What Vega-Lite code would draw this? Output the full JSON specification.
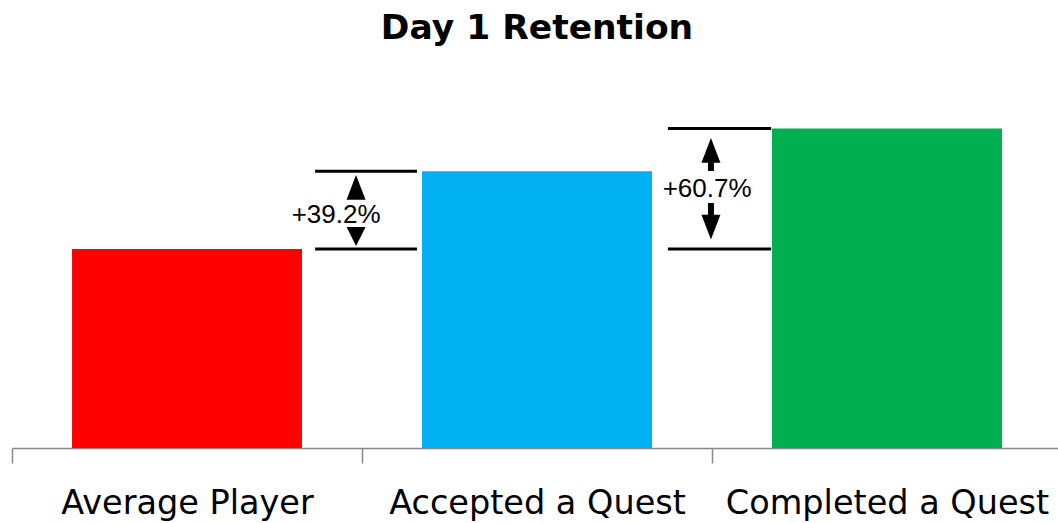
{
  "$schema": "https://vega.github.io/schema/vega-lite/v6.json",
  "width": 1050,
  "height": 358,
  "autosize": {"type": "none"},
  "padding": {"left": 12, "top": 90, "right": 0, "bottom": 75},
  "background": "white",
  "config": {"view": {"stroke": null}},
  "title": {
    "text": "Day 1 Retention",
    "font": "DejaVu Sans",
    "fontSize": 34.5,
    "fontWeight": "bold",
    "color": "#000000",
    "anchor": "middle",
    "baseline": "alphabetic",
    "offset": 17
  },
  "datasets": {
    "bars": [
      {"group": "Average Player", "retention": 20.0},
      {"group": "Accepted a Quest", "retention": 27.84},
      {"group": "Completed a Quest", "retention": 32.14}
    ],
    "brackets": [
      {"from": 0.866, "to": 1.157, "value": 27.84},
      {"from": 0.866, "to": 1.157, "value": 20.0},
      {"from": 1.874, "to": 2.169, "value": 32.14},
      {"from": 1.874, "to": 2.169, "value": 20.0}
    ],
    "shafts": [
      {"pos": 1.997, "top": 28.96, "bottom": 27.86},
      {"pos": 1.997, "top": 24.64, "bottom": 23.23}
    ],
    "heads": [
      {"pos": 0.983, "value": 26.2, "head": "up"},
      {"pos": 0.983, "value": 21.27, "head": "down-short"},
      {"pos": 1.997, "value": 29.92, "head": "up"},
      {"pos": 1.997, "value": 22.22, "head": "down"}
    ],
    "labels": [
      {"pos": 0.926, "value": 22.63, "label": "+39.2%"},
      {"pos": 1.986, "value": 25.24, "label": "+60.7%"}
    ]
  },
  "layer": [
    {
      "data": {"name": "bars"},
      "mark": {"type": "bar", "width": {"band": 0.657}},
      "encoding": {
        "x": {
          "field": "group",
          "type": "nominal",
          "sort": null,
          "scale": {"paddingInner": 0, "paddingOuter": 0},
          "axis": {
            "title": null,
            "labelAngle": 0,
            "labelFont": "DejaVu Sans",
            "labelFontSize": 33.5,
            "labelColor": "#000000",
            "labelBaseline": "alphabetic",
            "labelPadding": 50,
            "labelLimit": 0,
            "labelOverlap": false,
            "tickSize": 15,
            "tickBand": "extent",
            "tickColor": "#888888",
            "domainColor": "#888888",
            "tickWidth": 1.5,
            "domainWidth": 1.5,
            "grid": false
          }
        },
        "y": {
          "field": "retention",
          "type": "quantitative",
          "scale": {"domain": [0, 36], "nice": false},
          "axis": null
        },
        "color": {
          "field": "group",
          "type": "nominal",
          "scale": {
            "domain": ["Average Player", "Accepted a Quest", "Completed a Quest"],
            "range": ["#FF0000", "#00B0F0", "#00B050"]
          },
          "legend": null
        }
      }
    },
    {
      "layer": [
        {
          "data": {"name": "brackets"},
          "mark": {"type": "rule", "color": "#000000", "strokeWidth": 3},
          "encoding": {
            "x": {"field": "from", "type": "quantitative", "scale": {"domain": [0, 3], "nice": false, "zero": false}, "axis": null},
            "x2": {"field": "to"},
            "y": {"field": "value", "type": "quantitative", "scale": {"domain": [0, 36], "nice": false}, "axis": null}
          }
        },
        {
          "data": {"name": "shafts"},
          "mark": {"type": "rule", "color": "#000000", "strokeWidth": 6},
          "encoding": {
            "x": {"field": "pos", "type": "quantitative", "scale": {"domain": [0, 3], "nice": false, "zero": false}, "axis": null},
            "y": {"field": "top", "type": "quantitative", "scale": {"domain": [0, 36], "nice": false}, "axis": null},
            "y2": {"field": "bottom"}
          }
        },
        {
          "data": {"name": "heads"},
          "mark": {"type": "point", "filled": true, "color": "#000000", "opacity": 1, "size": 361, "strokeWidth": 0},
          "encoding": {
            "x": {"field": "pos", "type": "quantitative", "scale": {"domain": [0, 3], "nice": false, "zero": false}, "axis": null},
            "y": {"field": "value", "type": "quantitative", "scale": {"domain": [0, 36], "nice": false}, "axis": null},
            "shape": {
              "field": "head",
              "type": "nominal",
              "scale": {
                "domain": ["up", "down", "down-short"],
                "range": ["M0,-1.3L-1,1.3L1,1.3Z", "M0,1.3L-1,-1.3L1,-1.3Z", "M0,1L-1,-1L1,-1Z"]
              },
              "legend": null
            }
          }
        },
        {
          "data": {"name": "labels"},
          "mark": {"type": "text", "font": "Liberation Sans", "fontSize": 26, "color": "#000000", "align": "center", "baseline": "alphabetic"},
          "encoding": {
            "x": {"field": "pos", "type": "quantitative", "scale": {"domain": [0, 3], "nice": false, "zero": false}, "axis": null},
            "y": {"field": "value", "type": "quantitative", "scale": {"domain": [0, 36], "nice": false}, "axis": null},
            "text": {"field": "label"}
          }
        }
      ]
    }
  ],
  "resolve": {"scale": {"x": "independent"}, "axis": {"x": "independent"}}
}
